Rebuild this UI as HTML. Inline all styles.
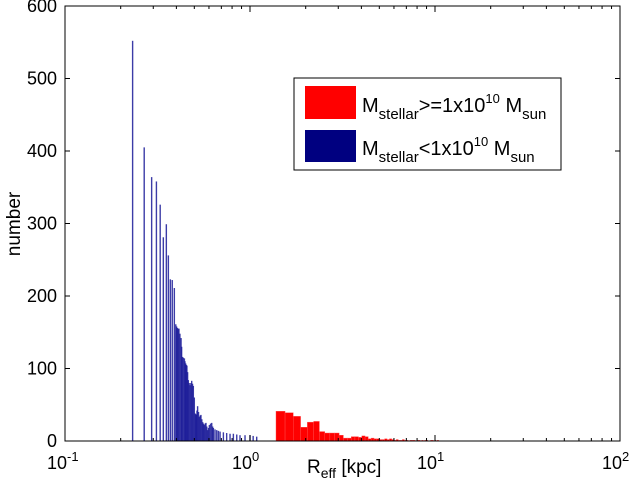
<!DOCTYPE html>
<html><head><meta charset="utf-8"><style>
body{margin:0;background:#fff;}
svg{display:block;font-family:"Liberation Sans",sans-serif;}
</style></head><body>
<svg id="chart" width="632" height="494">
<rect width="632" height="494" fill="#fff"/>
<g id="bars"></g>
<g id="axes"></g>
<g>
<rect x="294" y="78" width="267" height="92" fill="#fff" stroke="#000" stroke-width="1"/>
<rect x="305" y="86" width="51" height="33" fill="#ff0000"/>
<text x="362" y="112" font-size="20">M<tspan font-size="15" dy="7">stellar</tspan><tspan dy="-7">&gt;=1x10</tspan><tspan font-size="13" dy="-9">10</tspan><tspan dy="9"> M</tspan><tspan font-size="15" dy="7">sun</tspan></text>
<rect x="305" y="130" width="51" height="32" fill="#000080"/>
<text x="362" y="155" font-size="20">M<tspan font-size="15" dy="7">stellar</tspan><tspan dy="-7">&lt;1x10</tspan><tspan font-size="13" dy="-9">10</tspan><tspan dy="9"> M</tspan><tspan font-size="15" dy="7">sun</tspan></text>
</g>
<text x="307" y="473" font-size="19">R<tspan font-size="14" dy="5">eff</tspan><tspan dy="-5"> [kpc]</tspan></text>
<text transform="translate(20,224) rotate(-90)" text-anchor="middle" font-size="19">number</text>
</svg>
<script>
const blueR=[0.232,0.268,0.294,0.312,0.327,0.340,0.353,0.362,0.371,0.380,0.390,0.397,0.401,0.405,0.409,0.413,0.418,0.424,0.427,0.431,0.436,0.442,0.445,0.449,0.452,0.456,0.460,0.464,0.469,0.474,0.479,0.484,0.489,0.494,0.500,0.505,0.509,0.513,0.517,0.521,0.527,0.532,0.538,0.543,0.549,0.555,0.560,0.566,0.572,0.578,0.584,0.590,0.597,0.603,0.612,0.621,0.628,0.634,0.647,0.661,0.675,0.689,0.718,0.748,0.780,0.813,0.848,0.883,0.940,1.0,1.04,1.087];
const blueN=[552,405,364,358,326,281,299,256,223,222,211,161,158,156,155,155,148,142,130,116,115,114,110,107,105,104,95,84,80,77,80,83,79,76,60,38,37,36,42,48,40,33,35,36,30,26,24,22,24,25,20,15,18,22,24,25,20,18,16,15,14,13,12,11,10,10,9,8,8,8,7,6];
const redStart=1.382;
const redWidth=0.165;
const redN=[41,39,34,19,26,27,13,11,11,11,8,4,4,6,6,5,7,6,3,4,3,3,2,2,3,2,3,2,1,2,1,1,2,1,1,0,1,1,1,0,1,1,0,1,0,1,1,0,0,1,1,0,1,0,1];
const yTicks=[0,100,200,300,400,500,600];
const xTicks=[0.1,1,10,100];
const xTickLabels=["-1","0","1","2"];
const L=65,R=620,T=6,B=441;
const xs=v=>L+(Math.log10(v)+1)/3*(R-L);
const ys=v=>B-v/600*(B-T);
const NS="http://www.w3.org/2000/svg";
function mk(tag,attrs,parent){const e=document.createElementNS(NS,tag);for(const k in attrs)e.setAttribute(k,attrs[k]);parent.appendChild(e);return e;}
const bars=document.getElementById('bars');
redN.forEach((n,i)=>{
  if(!n)return;
  const x0=xs(redStart+i*redWidth),x1=xs(redStart+(i+1)*redWidth);
  const r=mk('rect',{x:x0,y:ys(n),width:Math.max(x1-x0,0.8),height:B-ys(n),fill:'#ff0000',stroke:'#ff5050','stroke-width':0.4},bars);
  
  
});
blueR.forEach((v,i)=>{
  const n=blueN[i];
  const r=mk('rect',{x:xs(v)-0.7,y:ys(n),width:1.4,height:B-ys(n),fill:'#1a1a98','fill-opacity':0.85},bars);
  
  
});
const ax=document.getElementById('axes');
const f=mk('rect',{x:L,y:T,width:R-L,height:B-T,fill:'none',stroke:'#000','stroke-width':1},ax);


yTicks.forEach(v=>{
  const y=ys(v);
  mk('line',{x1:L,x2:L+5,y1:y,y2:y,stroke:'#000'},ax);
  mk('line',{x1:R,x2:R-5,y1:y,y2:y,stroke:'#000'},ax);
  const t=mk('text',{x:L-8,y:y+6,'text-anchor':'end','font-size':18},ax);
  t.textContent=v;
  
  
});
xTicks.forEach((v,i)=>{
  const x=xs(v);
  mk('line',{x1:x,x2:x,y1:B,y2:B-6,stroke:'#000'},ax);
  mk('line',{x1:x,x2:x,y1:T,y2:T+6,stroke:'#000'},ax);
  if(i<3)for(let m=2;m<10;m++){const xm=xs(v*m);
    mk('line',{x1:xm,x2:xm,y1:B,y2:B-3,stroke:'#000'},ax);
    mk('line',{x1:xm,x2:xm,y1:T,y2:T+3,stroke:'#000'},ax);}
  const t=mk('text',{x:x-18,y:469,'font-size':18},ax);
  
  
  t.appendChild(document.createTextNode('10'));
  const s=mk('tspan',{dy:-8,'font-size':13},t);
  s.textContent=xTickLabels[i];
});
</script>
</body></html>
